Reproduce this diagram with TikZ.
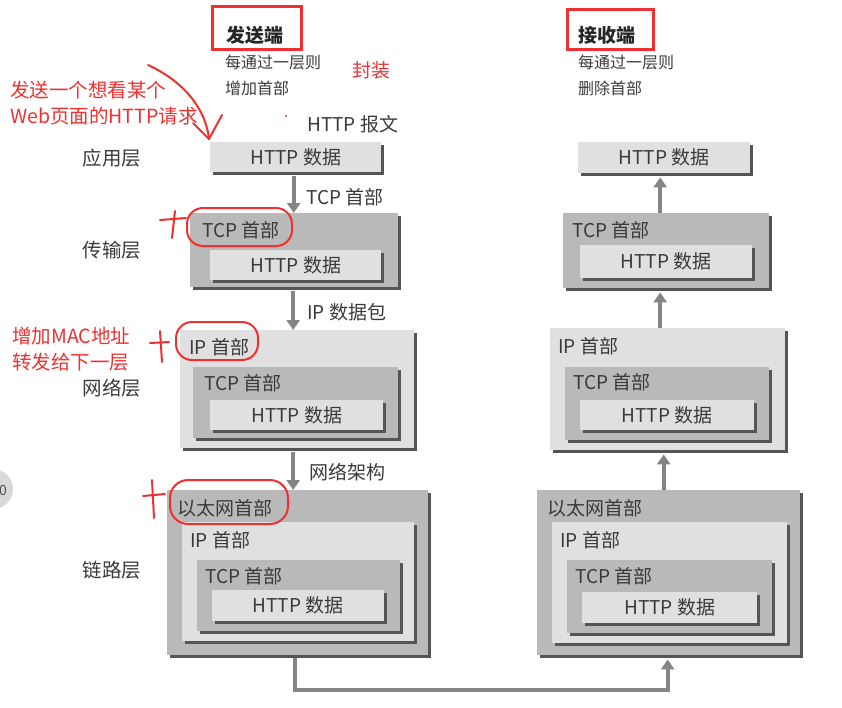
\documentclass[tikz,border=0pt]{standalone}
\usepackage{fontspec}
\setmainfont{Noto Sans CJK SC}
\usetikzlibrary{shadows,arrows.meta,calc}
\definecolor{txt}{HTML}{3A3A3A}
\definecolor{lightbox}{HTML}{E0E0E0}
\definecolor{darkbox}{HTML}{B9B9B9}
\definecolor{shadowc}{HTML}{555555}
\definecolor{arrowc}{HTML}{858585}
\definecolor{annot}{HTML}{F03030}
\tikzset{
  pkt/.style={draw=none, inner sep=0pt, anchor=north west,
     drop shadow={shadow xshift=3pt, shadow yshift=-3pt, fill=shadowc, opacity=1}},
  lpkt/.style={pkt, fill=lightbox},
  dpkt/.style={pkt, fill=darkbox},
  hdr/.style={anchor=west, text=txt, font=\fontsize{19}{19}\selectfont, inner sep=0pt},
  btxt/.style={text=txt, font=\fontsize{19}{19}\selectfont, inner sep=0pt},
  layer/.style={text=txt, font=\fontsize{19.5}{19.5}\selectfont, inner sep=0pt},
  note/.style={anchor=west, text=txt, font=\fontsize{16}{16}\selectfont, inner sep=0pt},
  msg/.style={anchor=west, text=txt, font=\fontsize{19}{19}\selectfont, inner sep=0pt},
  rednote/.style={anchor=west, text=annot, font=\fontsize{19.5}{19.5}\selectfont, inner sep=0pt},
  flow/.style={draw=arrowc, line width=4pt, -{Triangle[width=13pt,length=10pt]}},
  redline/.style={draw=annot, line width=2pt, line cap=round, line join=round},
  titlebox/.style={draw=annot, line width=2.5pt},
  title/.style={text=black!85, font=\fontsize{19}{19}\selectfont\bfseries, inner sep=0pt}
}
\newcommand{\bx}[6]{\node[#6, minimum width={(#4-#2)*1pt}, minimum height={(#5-#3)*1pt}] (#1) at (#2,#3) {};}
\begin{document}
\begin{tikzpicture}[x=1pt,y=-1pt]
\useasboundingbox (0,0) rectangle (842,707);
% partial UI circle at the left edge
\node[circle, fill=black!15, minimum size=40pt, inner sep=0pt] (ui) at (-7,489) {};
\node[text=black!70, font=\fontsize{14}{14}\selectfont, inner sep=0pt] (uitext) at (3,490) {0};

% ---------- titles ----------
\node[titlebox, minimum width=89pt, minimum height=43pt, inner sep=0pt, anchor=north west] (sendbox) at (211,5) {};
\node[title] (send) at (255,35) {发送端};
\node[note] (s1) at (225,62) {每通过一层则};
\node[note] (s2) at (225,88) {增加首部};
\node[text=annot, font=\fontsize{19}{19}\selectfont, inner sep=0pt] (enc) at (371,70) {封装};

\node[titlebox, minimum width=86pt, minimum height=40pt, inner sep=0pt, anchor=north west] (recvbox) at (566,8) {};
\node[title] (recv) at (607,35) {接收端};
\node[note] (r1) at (578,62) {每通过一层则};
\node[note] (r2) at (578,88) {删除首部};

% ---------- layer labels ----------
\node[layer] (lay1) at (112,158) {应用层};
\node[layer] (lay2) at (112,250) {传输层};
\node[layer] (lay3) at (112,388) {网络层};
\node[layer] (lay4) at (112,570) {链路层};

% ---------- left (sender) stack ----------
\bx{Lh1}{210}{142}{381}{172}{lpkt}
\node[btxt] at (Lh1) {HTTP 数据};

\bx{Lt2}{190}{213}{398}{287}{dpkt}
\node[hdr] at ($(Lt2.north west)+(12,17)$) {TCP 首部};
\bx{Lh2}{210}{250}{381}{280}{lpkt}
\node[btxt] at (Lh2) {HTTP 数据};

\bx{Li3}{180}{330}{414}{448}{lpkt}
\node[hdr] at ($(Li3.north west)+(9,17)$) {IP 首部};
\bx{Lt3}{193}{367}{398}{438}{dpkt}
\node[hdr] at ($(Lt3.north west)+(11,16)$) {TCP 首部};
\bx{Lh3}{210}{400}{383}{430}{lpkt}
\node[btxt] at (Lh3) {HTTP 数据};

\bx{Le4}{167}{490}{428}{655}{dpkt}
\node[hdr] at ($(Le4.north west)+(10,18)$) {以太网首部};
\bx{Li4}{182}{522}{414}{641}{lpkt}
\node[hdr] at ($(Li4.north west)+(8,18)$) {IP 首部};
\bx{Lt4}{197}{560}{400}{631}{dpkt}
\node[hdr] at ($(Lt4.north west)+(8,16)$) {TCP 首部};
\bx{Lh4}{212}{590}{384}{621}{lpkt}
\node[btxt] at (Lh4) {HTTP 数据};

% ---------- right (receiver) stack ----------
\bx{Rh1}{578}{142}{750}{173}{lpkt}
\node[btxt] at (Rh1) {HTTP 数据};

\bx{Rt2}{563}{213}{769}{288}{dpkt}
\node[hdr] at ($(Rt2.north west)+(9,17)$) {TCP 首部};
\bx{Rh2}{580}{245}{752}{278}{lpkt}
\node[btxt] at (Rh2) {HTTP 数据};

\bx{Ri3}{550}{328}{785}{450}{lpkt}
\node[hdr] at ($(Ri3.north west)+(8,18)$) {IP 首部};
\bx{Rt3}{565}{367}{769}{440}{dpkt}
\node[hdr] at ($(Rt3.north west)+(8,15)$) {TCP 首部};
\bx{Rh3}{580}{400}{754}{430}{lpkt}
\node[btxt] at (Rh3) {HTTP 数据};

\bx{Re4}{537}{490}{800}{655}{dpkt}
\node[hdr] at ($(Re4.north west)+(10,18)$) {以太网首部};
\bx{Ri4}{552}{522}{787}{643}{lpkt}
\node[hdr] at ($(Ri4.north west)+(8,18)$) {IP 首部};
\bx{Rt4}{567}{560}{772}{633}{dpkt}
\node[hdr] at ($(Rt4.north west)+(8,16)$) {TCP 首部};
\bx{Rh4}{582}{592}{757}{623}{lpkt}
\node[btxt] at (Rh4) {HTTP 数据};

% ---------- connectors ----------
\coordinate (La) at ($(Lh1.south)+(-2,0)$);
\draw[flow] ($(La)+(0,4)$) -- (La |- Lt2.north);
\coordinate (Lb) at ($(Lt2.south)+(-1,0)$);
\draw[flow] ($(Lb)+(0,4)$) -- (Lb |- Li3.north);
\coordinate (Lc) at ($(Li3.south)+(-4,0)$);
\draw[flow] ($(Lc)+(0,4)$) -- (Lc |- Le4.north);

\node[msg] (m0) at (307,124) {HTTP 报文};
\node[msg] (m1) at (306,197) {TCP 首部};
\node[msg] (m2) at (307,312) {IP 数据包};
\node[msg] (m3) at (309,472) {网络架构};

\coordinate (Ra) at ($(Rh1.south)+(-4,0)$);
\draw[flow] (Ra |- Rt2.north) -- ($(Ra)+(0,4)$);
\coordinate (Rb) at ($(Rt2.south)+(-6,0)$);
\draw[flow] (Rb |- Ri3.north) -- ($(Rb)+(0,4)$);
\coordinate (Rc) at ($(Ri3.south)+(-4,0)$);
\draw[flow] (Rc |- Re4.north) -- ($(Rc)+(0,4)$);

\coordinate (Ld) at ($(Le4.south)+(-3,3)$);
\coordinate (Rd) at ($(Re4.south)+(-1,4)$);
\draw[flow] (Ld) -- ++(0,32) -| (Rd);

% ---------- red annotations ----------
\node[rednote] (a1) at (10,90) {发送一个想看某个};
\node[rednote] (a2) at (10,116) {Web页面的HTTP请求};
\coordinate (curveStart) at (148,65);
\coordinate (curveTip) at (209,139);
\draw[redline] (curveStart) .. controls (185,82) and (206,110) .. (curveTip);
\draw[redline] (193,123) -- (curveTip) -- (222,115);
\fill[annot] (286,116) circle (1.2);

\node[rednote] (b1) at (12,336) {增加MAC地址};
\node[rednote] (b2) at (12,362) {转发给下一层};

% circles and plus marks
\draw[redline, rounded corners=16pt] (187,208) rectangle (292,246);
\draw[redline] (160,220) -- (186,218);
\draw[redline] (175,211) -- (172,238);

\draw[redline, rounded corners=16pt] (176,322) rectangle (258,360);
\draw[redline] (150,343) -- (169,342);
\draw[redline] (160,331) -- (162,362);

\draw[redline, rounded corners=18pt] (170,480) rectangle (288,524);
\draw[redline] (143,496) -- (165,494);
\draw[redline] (152,480) -- (154,518);
\end{tikzpicture}
\end{document}
